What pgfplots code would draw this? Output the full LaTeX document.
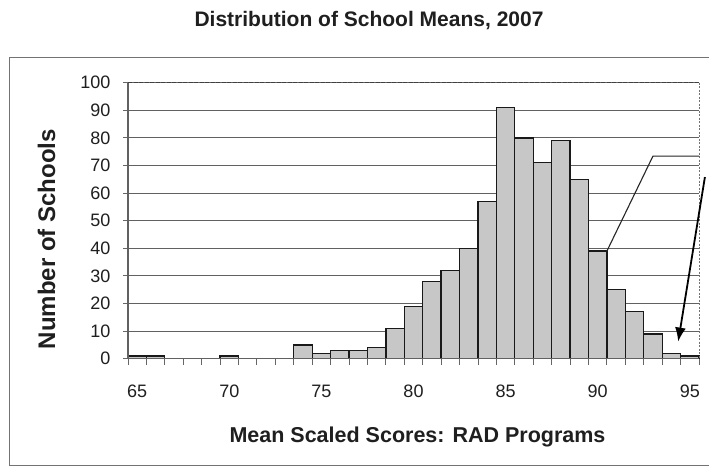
\documentclass[border=0pt]{standalone}
\usepackage{fontspec}
\setmainfont{Liberation Sans}
\usepackage{pgfplots}
\pgfplotsset{compat=1.18}
\usetikzlibrary{arrows.meta}
\begin{document}
\begin{tikzpicture}[x=1bp,y=1bp]
\path[use as bounding box] (0,0) rectangle (709,473);
\fill[white] (0,0) rectangle (709,473);
\draw[black!55, line width=0.9bp] (9,8) rectangle (730,416);
\node[anchor=base, font=\fontsize{21bp}{24bp}\selectfont\bfseries, text=black!88] at (369,446) {Distribution of School Means, 2007};
\node[anchor=base, font=\fontsize{21.5bp}{24bp}\selectfont\bfseries, text=black!88] at (417.5,30) {Mean Scaled Scores: RAD Programs};
\node[anchor=base, rotate=90, font=\fontsize{24bp}{26bp}\selectfont\bfseries, text=black!88] at (55,234) {Number of Schools};
\begin{axis}[
  at={(128bp,114.3bp)}, anchor=south west,
  scale only axis, width=571bp, height=276bp,
  xmin=64.5, xmax=95.5, ymin=0, ymax=100,
  clip=false,
  axis x line*=bottom, axis y line*=left,
  axis line style={draw=none},
  ytick={0,10,...,100},
  ymajorgrids, grid style={draw=black!62, line width=1.1bp},
  xtick={65,70,75,80,85,90,95},
  xticklabels={65,70,75,80,85,90,95},
  major x tick style={draw=none},
  tick align=outside, major tick length=5bp,
  tick style={draw=black!60, line width=0.9bp},
  ticklabel style={font=\fontsize{18bp}{20bp}\selectfont, text=black!88},
  /pgf/number format/assume math mode=true,
  xticklabel style={yshift=-18bp},
  yticklabel style={xshift=-9bp},
]
\addplot[ybar, bar width=1, fill=black!22, draw=black!90, line width=1.3bp] coordinates {
(65,1) (66,1) (70,1) (74,5) (75,2) (76,3) (77,3) (78,4) (79,11)
(80,19) (81,28) (82,32) (83,40) (84,57) (85,91) (86,80) (87,71) (88,79)
(89,65) (90,39) (91,25) (92,17) (93,9) (94,2) (95,1)
};
\draw[black!62, line width=1.1bp] (axis cs:64.5,100) -- (axis cs:64.5,0) -- (axis cs:95.5,0);
\pgfplotsinvokeforeach{64.5,65.5,...,95.5}{
  \draw[black!60, line width=0.9bp] (axis cs:#1,0) -- ++(0pt,-6bp);
}
\draw[black!75, line width=1.6bp, dash pattern=on 4bp off 1.5bp] (axis cs:64.5,100) -- (axis cs:95.5,100);
\draw[black!55, line width=1bp, dash pattern=on 2bp off 1.5bp] (axis cs:95.5,100) -- (axis cs:95.5,0);
\draw[black!85, line width=1.1bp] (axis cs:90.5,39) -- (axis cs:93,73.4) -- (axis cs:95.5,73.4);
\draw[black, line width=1.8bp, -{Latex[length=14bp,width=11bp]}] (axis cs:95.82,65.8) -- (axis cs:94.37,6.2);
\end{axis}
\end{tikzpicture}
\end{document}
